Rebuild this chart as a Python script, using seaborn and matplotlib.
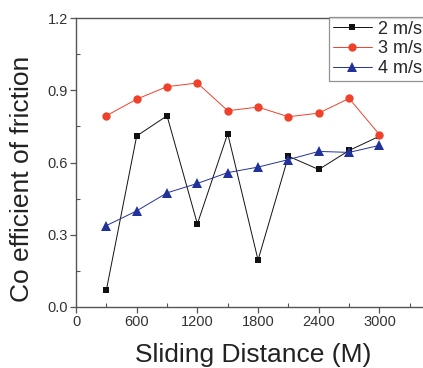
import matplotlib
matplotlib.use("Agg")
import matplotlib.pyplot as plt
import seaborn as sns
import pandas as pd
from matplotlib.ticker import MultipleLocator, FixedLocator

distance = [300, 600, 900, 1200, 1500, 1800, 2100, 2400, 2700, 3000]
cof_2ms = [0.07, 0.71, 0.794, 0.345, 0.72, 0.195, 0.626, 0.571, 0.65, 0.709]
cof_3ms = [0.794, 0.863, 0.915, 0.93, 0.815, 0.83, 0.79, 0.805, 0.866, 0.716]
cof_4ms = [0.338, 0.399, 0.474, 0.513, 0.558, 0.581, 0.612, 0.646, 0.642, 0.671]
series_labels = ["2 m/s", "3 m/s", "4 m/s"]

df = pd.DataFrame({
    "distance": distance * 3,
    "cof": cof_2ms + cof_3ms + cof_4ms,
    "speed": [series_labels[0]] * 10 + [series_labels[1]] * 10 + [series_labels[2]] * 10,
})

sns.set_theme(style="ticks")
plt.rcParams["font.family"] = ["Liberation Sans", "DejaVu Sans"]

fig = plt.figure(figsize=(4.23, 3.68), dpi=100)
ax = fig.add_axes([76 / 423, 61 / 368, 354 / 423, 289 / 368])

palette = {"2 m/s": "#111111", "3 m/s": "#f0412a", "4 m/s": "#23329a"}
markers = {"2 m/s": "s", "3 m/s": "o", "4 m/s": "^"}
sizes = {"2 m/s": 5, "3 m/s": 6, "4 m/s": 6.5}
for lab in series_labels:
    sub = df[df["speed"] == lab]
    sns.lineplot(data=sub, x="distance", y="cof", ax=ax, color=palette[lab],
                 linewidth=0.7, marker=markers[lab], markersize=sizes[lab],
                 markeredgewidth=0, label=lab)

ax.set_xlim(0, 3500)
ax.set_ylim(0, 1.2)
ax.xaxis.set_major_locator(FixedLocator([0, 600, 1200, 1800, 2400, 3000]))
ax.xaxis.set_minor_locator(MultipleLocator(300))
ax.yaxis.set_major_locator(MultipleLocator(0.3))
ax.yaxis.set_minor_locator(MultipleLocator(0.15))
ax.yaxis.set_major_formatter(matplotlib.ticker.FormatStrFormatter("%.1f"))

for side in ["left", "bottom", "top"]:
    ax.spines[side].set_color("#555555")
    ax.spines[side].set_linewidth(1.0)
ax.spines["right"].set_visible(False)

ax.tick_params(axis="both", which="major", direction="out", length=4, width=0.9,
               color="#555555", labelsize=10.5, labelcolor="#333333", pad=2)
ax.tick_params(axis="both", which="minor", direction="in", length=3, width=0.8,
               color="#555555")

ax.set_xlabel("Sliding Distance (M)", fontsize=19, color="#222222", labelpad=10)
ax.set_ylabel("Co efficient of friction", fontsize=19, color="#222222")
ax.yaxis.set_label_coords(-0.118, 0.443)

leg = ax.legend(loc="upper left", bbox_to_anchor=(253 / 354, 1.003), fontsize=13,
                frameon=True, fancybox=False, borderpad=0.2, labelspacing=0.15,
                handlelength=2.2, handletextpad=0.3, borderaxespad=0)
leg.get_frame().set_edgecolor("#777777")
leg.get_frame().set_linewidth(0.9)

fig.savefig("out.png", dpi=100)
